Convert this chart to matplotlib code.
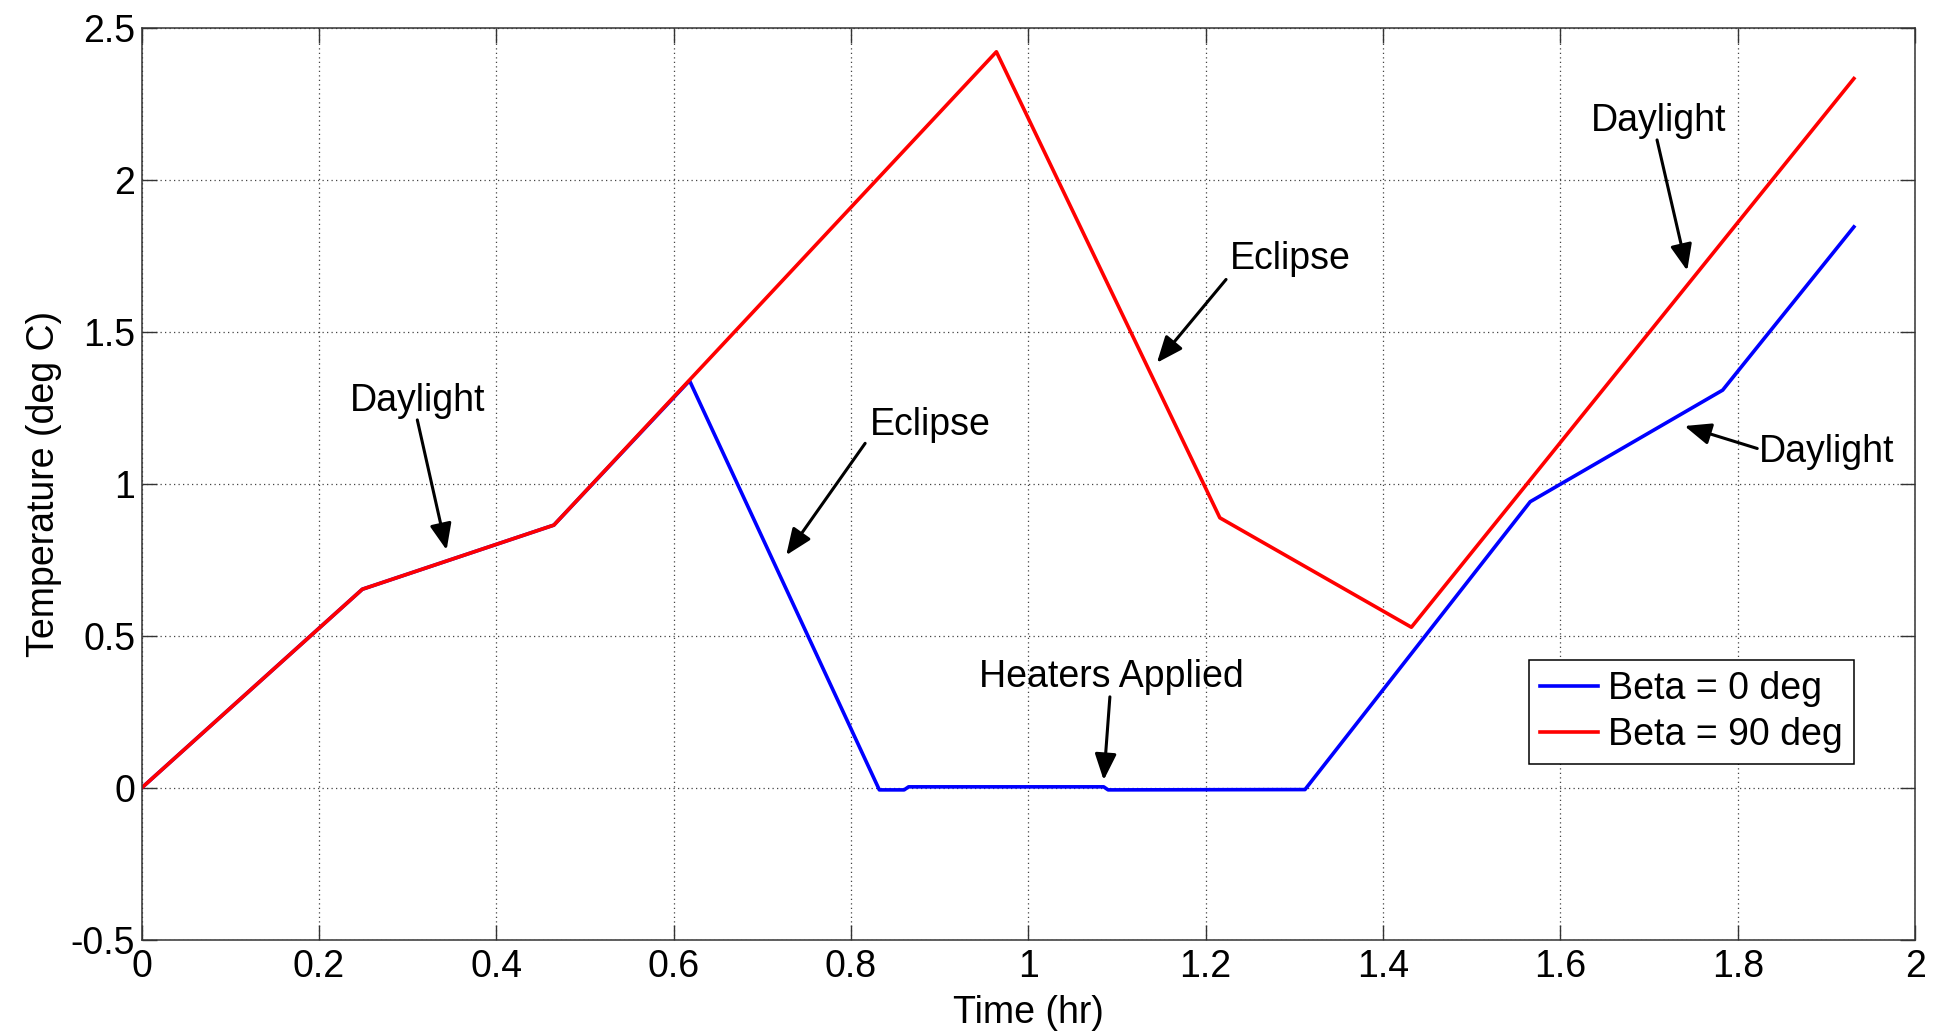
import matplotlib.pyplot as plt

plt.rcParams['font.family'] = ['Liberation Sans', 'DejaVu Sans']

# Beta = 0 deg (blue) - follows the red curve until eclipse, then heaters hold it at 0
time_beta0 = [0.0, 0.249, 0.465, 0.618, 0.832, 0.86, 0.865, 1.085, 1.09, 1.312, 1.566, 1.783, 1.931]
temp_beta0 = [0.0, 0.654, 0.865, 1.340, -0.006, -0.006, 0.004, 0.004, -0.006, -0.005, 0.942, 1.309, 1.846]

# Beta = 90 deg (red)
time_beta90 = [0.0, 0.249, 0.465, 0.964, 1.216, 1.432, 1.931]
temp_beta90 = [0.0, 0.654, 0.865, 2.422, 0.889, 0.529, 2.334]

series_labels = ['Beta = 0 deg', 'Beta = 90 deg']

# (text, text xy, arrow tail, arrow tip)
notes = [
    ('Daylight', (0.311, 1.272), (0.311, 1.211), (0.344, 0.783)),
    ('Eclipse', (0.889, 1.193), (0.816, 1.134), (0.727, 0.766)),
    ('Eclipse', (1.295, 1.739), (1.223, 1.673), (1.145, 1.399)),
    ('Heaters Applied', (1.094, 0.364), (1.092, 0.300), (1.085, 0.026)),
    ('Daylight', (1.711, 2.193), (1.709, 2.132), (1.743, 1.702)),
    ('Daylight', (1.900, 1.104), (1.822, 1.117), (1.740, 1.191)),
]

fig = plt.figure(figsize=(19.36, 10.32), dpi=100)
ax = fig.add_axes([0.0731, 0.0891, 0.9161, 0.8837])

ax.plot(time_beta0, temp_beta0, color='#0000ff', lw=2.6, label=series_labels[0])
ax.plot(time_beta90, temp_beta90, color='#ff0000', lw=2.6, label=series_labels[1])

for txt, txy, tail, tip in notes:
    ax.text(txy[0], txy[1], txt, fontsize=27, ha='center', va='center')
    ax.annotate('', xy=tip, xytext=tail,
                arrowprops=dict(arrowstyle='-|>,head_length=0.8,head_width=0.33',
                                mutation_scale=20, color='black', lw=2.2,
                                shrinkA=0, shrinkB=0))

ax.set_xlim(0, 2)
ax.set_ylim(-0.5, 2.5)
ax.set_xticks([0, 0.2, 0.4, 0.6, 0.8, 1, 1.2, 1.4, 1.6, 1.8, 2])
ax.set_xticklabels(['0', '0.2', '0.4', '0.6', '0.8', '1', '1.2', '1.4', '1.6', '1.8', '2'])
ax.set_yticks([-0.5, 0, 0.5, 1, 1.5, 2, 2.5])
ax.set_yticklabels(['-0.5', '0', '0.5', '1', '1.5', '2', '2.5'])
ax.tick_params(direction='in', length=11, width=1, top=True, right=True,
               labelsize=27, color='#333333')
ax.tick_params(axis='x', pad=6.5)
ax.tick_params(axis='y', pad=4.5)
ax.grid(True, color='#444444', lw=0.9, linestyle=(0, (1, 2.6)))
for sp in ax.spines.values():
    sp.set_color('#333333')
    sp.set_linewidth(1.1)

ax.set_xlabel('Time (hr)', fontsize=27)
ax.set_ylabel('Temperature (deg C)', fontsize=27)
ax.xaxis.set_label_coords(0.5, -0.060)
ax.yaxis.set_label_coords(-0.0448, 0.5)

leg = ax.legend(loc='upper right', bbox_to_anchor=(0.9653, 0.307), fontsize=27,
                fancybox=False, framealpha=1, edgecolor='black', borderaxespad=0,
                borderpad=0.3, labelspacing=0.25, handlelength=1.55, handletextpad=0.25)
leg.get_frame().set_linewidth(1.1)

plt.savefig('out.png', dpi=100)
